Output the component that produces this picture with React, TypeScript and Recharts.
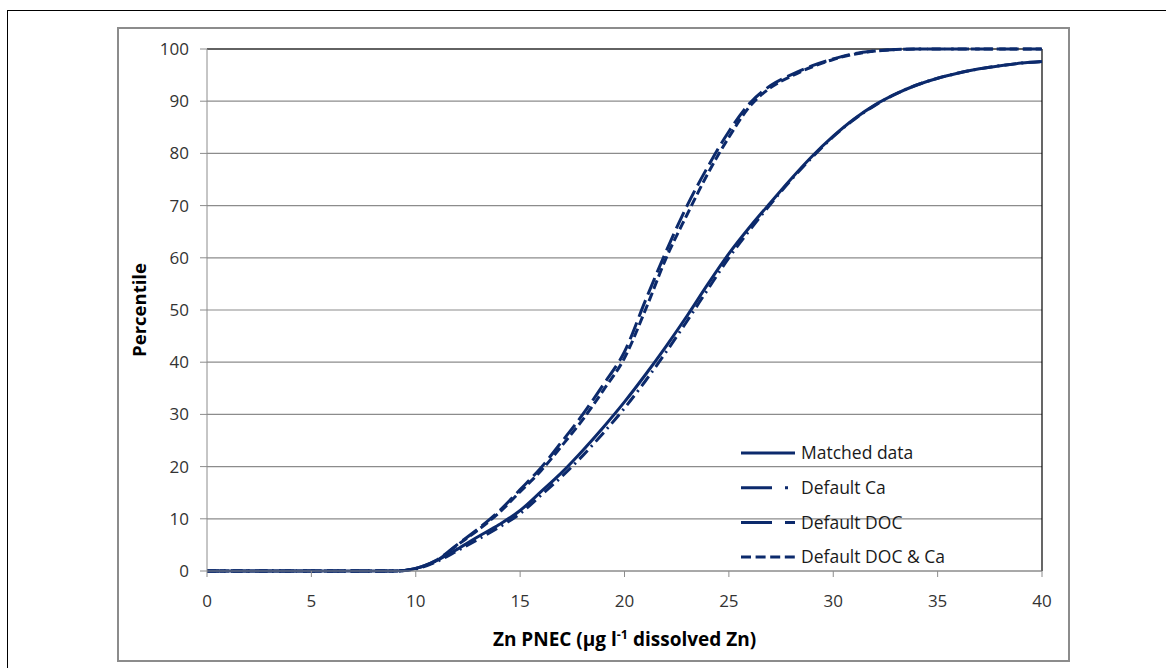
import React from 'react';
import { LineChart, Line, XAxis, YAxis, CartesianGrid, ReferenceLine, Legend } from 'recharts';

const xValues = [0, 1, 2, 3, 4, 5, 6, 7, 8, 9, 10, 11, 12, 13, 14, 15, 16, 17, 18, 19, 20, 21, 22, 23, 24, 25, 26, 27, 28, 29, 30, 31, 32, 33, 34, 35, 36, 37, 38, 39, 40];

const matchedData = [0, 0, 0, 0, 0, 0, 0, 0, 0, 0, 0.5, 2.0, 4.2, 6.6, 8.9, 11.6, 15.2, 18.9, 23.1, 27.6, 32.4, 37.6, 43.1, 48.9, 55.0, 60.8, 65.9, 70.6, 75.2, 79.5, 83.3, 86.6, 89.3, 91.4, 93.1, 94.4, 95.4, 96.2, 96.8, 97.3, 97.6];

const defaultCa = [0, 0, 0, 0, 0, 0, 0, 0, 0, 0, 0.4, 1.8, 3.9, 6.1, 8.4, 11.0, 14.5, 18.1, 22.1, 26.5, 31.2, 36.4, 42.0, 47.9, 54.0, 60.0, 65.3, 70.3, 75.0, 79.3, 83.2, 86.5, 89.2, 91.4, 93.1, 94.4, 95.4, 96.2, 96.8, 97.3, 97.6];

const defaultDoc = [0, 0, 0, 0, 0, 0, 0, 0, 0, 0, 0.5, 2.1, 5.1, 8.1, 11.5, 15.6, 19.8, 24.8, 30.0, 35.8, 42.0, 51.8, 61.3, 70.0, 77.5, 84.2, 89.6, 93.0, 95.1, 96.8, 98.1, 99.1, 99.6, 99.9, 100, 100, 100, 100, 100, 100, 100];

const defaultDocCa = [0, 0, 0, 0, 0, 0, 0, 0, 0, 0, 0.5, 2.0, 5.0, 7.9, 11.2, 15.2, 19.2, 24.0, 29.0, 34.7, 40.8, 50.0, 60.0, 68.3, 76.2, 83.1, 89.0, 92.6, 94.8, 96.6, 98.0, 99.0, 99.6, 99.9, 100, 100, 100, 100, 100, 100, 100];

const xTicks = [0, 5, 10, 15, 20, 25, 30, 35, 40];
const yTicks = [0, 10, 20, 30, 40, 50, 60, 70, 80, 90, 100];

const seriesNames = ['Matched data', 'Default Ca', 'Default DOC', 'Default DOC & Ca'];
const xTitle = 'Zn PNEC (\u03bcg l';
const xTitleSup = '-1';
const xTitleEnd = ' dissolved Zn)';
const yTitle = 'Percentile';

const data = xValues.map((x, i) => ({
  x,
  matched: matchedData[i],
  ca: defaultCa[i],
  doc: defaultDoc[i],
  docCa: defaultDocCa[i],
}));

const NAVY = '#0c2a6c';
const FONT = '"Open Sans", "DejaVu Sans", sans-serif';

const series = [
  { key: 'matched', name: seriesNames[0], dash: undefined as string | undefined, legendDash: undefined as string | undefined },
  { key: 'ca', name: seriesNames[1], dash: '12 5 2 5', legendDash: '31 13 3 200' },
  { key: 'doc', name: seriesNames[2], dash: '18 6', legendDash: '31 13 11 200' },
  { key: 'docCa', name: seriesNames[3], dash: '9 4', legendDash: '10 4.6' },
];

function LegendContent() {
  return (
    <svg width={300} height={140} style={{ display: 'block', overflow: 'visible' }}>
      {series.map((s, i) => {
        const y = 15 + i * 34.7;
        return (
          <g key={s.key}>
            <line x1={6} x2={60} y1={y} y2={y} stroke={NAVY} strokeWidth={3} strokeDasharray={s.legendDash} />
            <text x={66} y={y} dy="0.35em" fontFamily={FONT} fontSize={17.5} fill="#1a1a1a">
              {s.name}
            </text>
          </g>
        );
      })}
    </svg>
  );
}

function XTitle(props: any) {
  const vb = props.viewBox || { x: 207, y: 571, width: 835, height: 60 };
  const cx = vb.x + vb.width / 2;
  return (
    <text x={cx} y={646} textAnchor="middle" fontFamily={FONT} fontSize={19} fontWeight="bold" fill="#000">
      {xTitle}
      <tspan dy={-7} fontSize={12.5}>{xTitleSup}</tspan>
      <tspan dy={7}>{xTitleEnd}</tspan>
    </text>
  );
}

function YTitle(props: any) {
  const vb = props.viewBox || { x: 147, y: 49, width: 60, height: 522 };
  const cy = vb.y + vb.height / 2;
  return (
    <text x={0} y={0} transform={`translate(146, ${cy}) rotate(-90)`} textAnchor="middle" fontFamily={FONT} fontSize={18.5} fontWeight="bold" fill="#000">
      {yTitle}
    </text>
  );
}

export default function App() {
  return (
    <div style={{ position: 'absolute', left: 0, top: 0, width: 1166, height: 668, overflow: 'hidden', background: '#fff' }}>
      <div style={{ position: 'absolute', left: 7, top: 10, width: 1200, height: 700, border: '1.5px solid #000', boxSizing: 'border-box' }} />
      <div style={{ position: 'absolute', left: 117, top: 27, width: 953, height: 635, border: '2px solid #8c8c8c', boxSizing: 'border-box' }} />
      <div style={{ position: 'absolute', left: 0, top: 0 }}>
        <LineChart width={1166} height={668} data={data} margin={{ top: 49, right: 124, bottom: 37, left: 147 }}>
          <CartesianGrid vertical={false} stroke="#8c8c8c" strokeWidth={1.2} />
          <XAxis
            dataKey="x"
            type="number"
            domain={[0, 40]}
            ticks={xTicks}
            interval={0}
            height={60}
            stroke="#8c8c8c"
            tickSize={6}
            tickMargin={18}
            tick={{ fontFamily: FONT, fontSize: 17, fill: '#333' }}
            label={<XTitle />}
          />
          <YAxis
            type="number"
            domain={[0, 100]}
            ticks={yTicks}
            interval={0}
            width={60}
            stroke="#8c8c8c"
            tickSize={7}
            tickMargin={11}
            tick={{ fontFamily: FONT, fontSize: 17, fill: '#333' }}
            label={<YTitle />}
          />
          <ReferenceLine y={100} stroke="#000" strokeWidth={1.2} />
          <ReferenceLine x={40} stroke="#000" strokeWidth={1.2} />
          {series.map((s) => (
            <Line
              key={s.key}
              dataKey={s.key}
              name={s.name}
              type="monotone"
              stroke={NAVY}
              strokeWidth={3}
              strokeDasharray={s.dash}
              dot={false}
              activeDot={false}
              isAnimationActive={false}
            />
          ))}
          <Legend
            layout="horizontal"
            verticalAlign="middle"
            align="center"
            content={<LegendContent />}
            wrapperStyle={{ position: 'absolute', left: 735, top: 438, width: 300, height: 140 }}
          />
        </LineChart>
      </div>
    </div>
  );
}
